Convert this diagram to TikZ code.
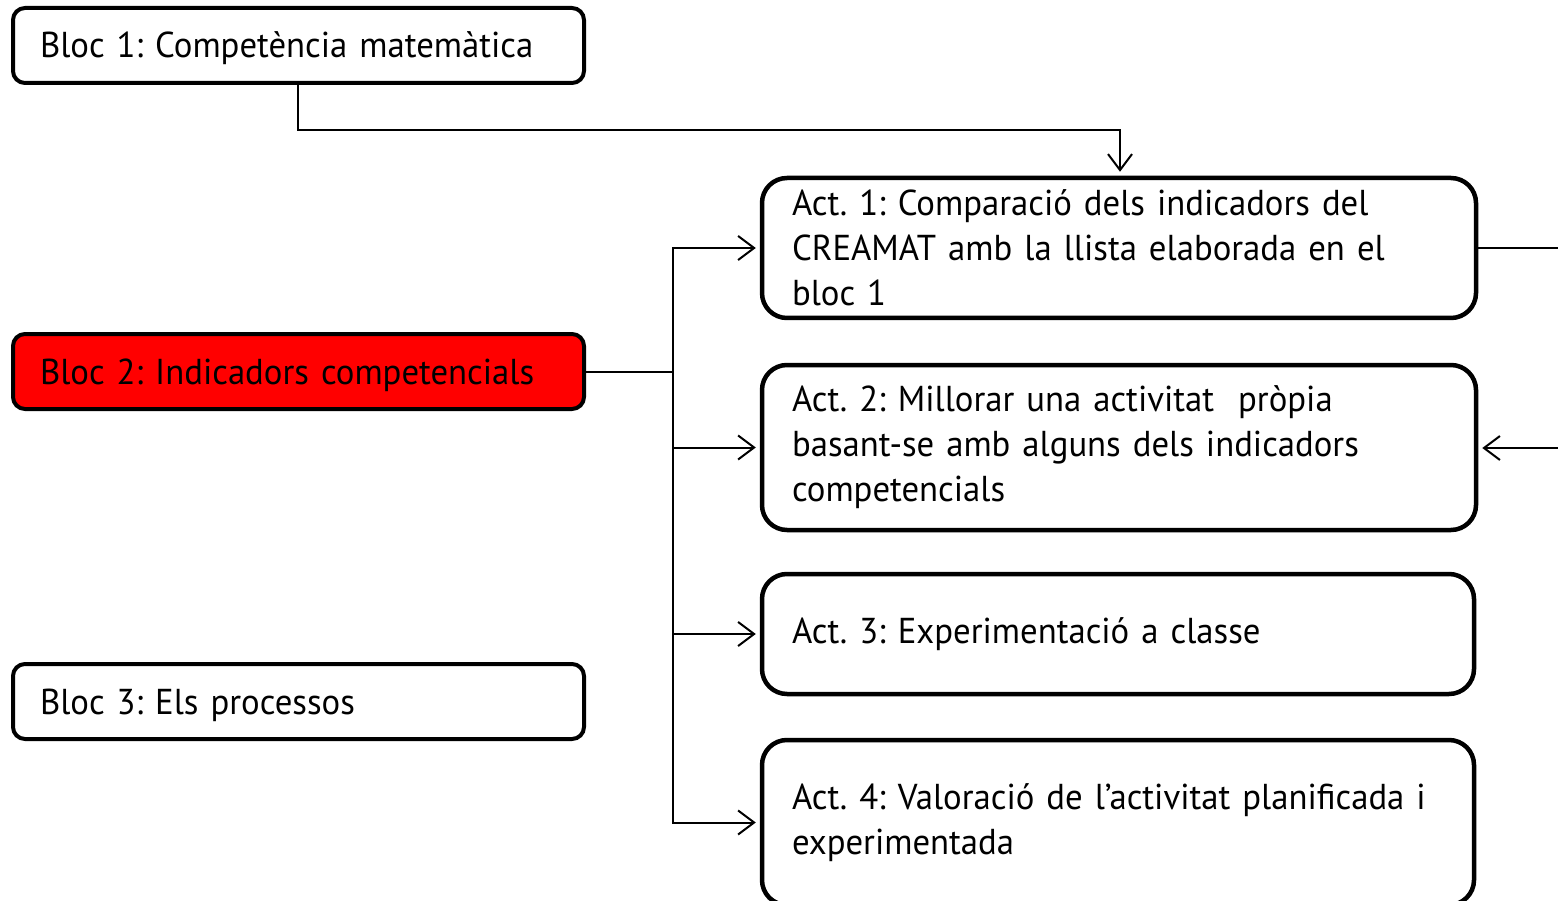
\documentclass[tikz,border=0pt]{standalone}
\usepackage{fontspec}
\setmainfont{PT Sans}[FakeStretch=0.965, WordSpace=0.75]
\usetikzlibrary{arrows.meta}
\frenchspacing
\begin{document}
\begin{tikzpicture}[x=1pt,y=-1pt,
  font=\fontsize{36}{45}\selectfont\frenchspacing,
  bloc/.style={draw, line width=4pt, rounded corners=12pt, minimum width=571pt,
    minimum height=75pt, text width=517pt, inner xsep=27pt, inner ysep=0pt, align=left,
    text height=29pt, text depth=4pt},
  act/.style={draw, line width=4.5pt, rounded corners=25pt, minimum width=714pt,
    text width=654pt, inner xsep=30pt, inner ysep=0pt, align=left},
  conn/.style={line width=2pt},
  arr/.style={conn, -{Straight Barb[length=16pt,width=24pt]}, shorten >=4pt}]
\useasboundingbox (0,0) rectangle (1558,901);
\node[bloc] (b1) at (298.5,45.5) {Bloc 1: Competència matemàtica};
\node[bloc, fill=red] (b2) at (298.5,371.5) {Bloc 2: Indicadors competencials};
\node[bloc] (b3) at (298.5,701.5) {Bloc 3: Els processos};
\node[act, minimum height=140pt] (a1) at (1119,248) {Act. 1: Comparació dels indicadors del\\CREAMAT amb la llista elaborada en el\\bloc 1};
\node[act, minimum height=165pt] (a2) at (1119,447.5) {Act. 2: Millorar una activitat \ pròpia\\basant-se amb alguns dels indicadors\\competencials};
\node[act, minimum height=120pt, minimum width=712pt, text width=652pt] (a3) at (1118,634) {Act. 3: Experimentació a classe};
\node[act, minimum height=165pt, minimum width=712pt, text width=652pt] (a4) at (1118,822.5) {Act. 4: Valoració de l’activitat planificada i\\experimentada};
\coordinate (j1) at (298,130);
\coordinate (j2) at (1120,130);
\draw[arr] (b1.south -| j1) -- (j1) -- (j2) -- (j2 |- a1.north);
\coordinate (t) at (673,371.5);
\draw[conn] (b2.east) -- (t);
\draw[arr] (t) |- (a1.west);
\draw[arr] (t) |- (a2.west);
\draw[arr] (t) |- (a3.west);
\draw[arr] (t) |- (a4.west);
\coordinate (r1) at (1558,248);
\coordinate (r2) at (1558,448);
\draw[conn] (a1.east) -- (r1);
\draw[arr] (r2) -- (r2 -| a2.east);
\end{tikzpicture}
\end{document}
